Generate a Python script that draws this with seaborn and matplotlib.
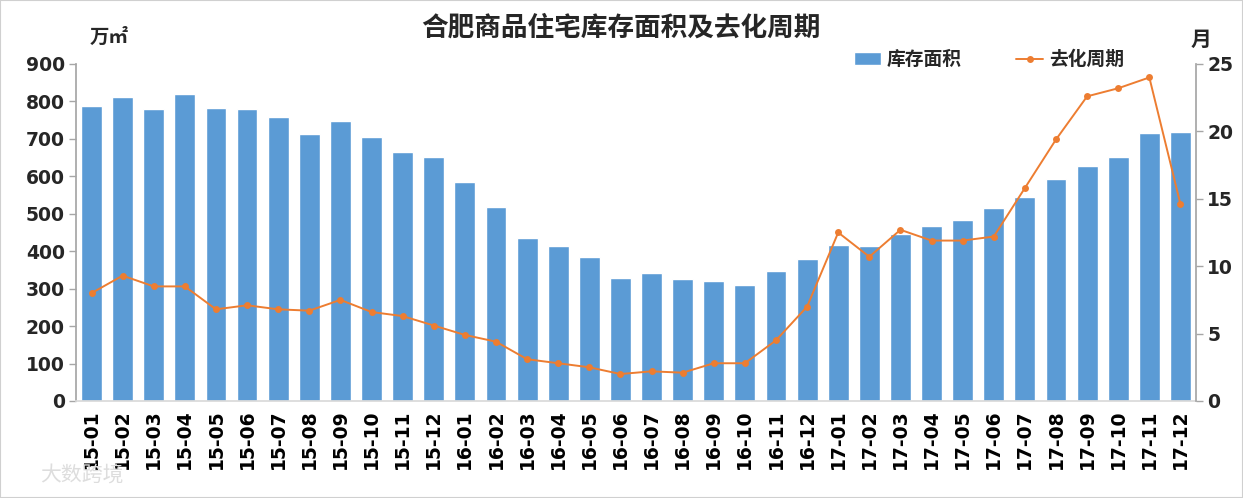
import numpy as np
import pandas as pd
import matplotlib
matplotlib.use("Agg")
import matplotlib.pyplot as plt
import seaborn as sns
from matplotlib.patches import Rectangle

months = ["15-01","15-02","15-03","15-04","15-05","15-06","15-07","15-08","15-09","15-10","15-11","15-12",
          "16-01","16-02","16-03","16-04","16-05","16-06","16-07","16-08","16-09","16-10","16-11","16-12",
          "17-01","17-02","17-03","17-04","17-05","17-06","17-07","17-08","17-09","17-10","17-11","17-12"]
inventory = [788, 812, 780, 820, 783, 780, 758, 713, 748, 705, 665, 652,
             586, 518, 435, 414, 385, 329, 342, 326, 320, 310, 347, 379,
             417, 414, 446, 467, 483, 515, 545, 593, 628, 652, 716, 718]
cycle = [8.0, 9.3, 8.5, 8.5, 6.8, 7.1, 6.8, 6.7, 7.5, 6.6, 6.3, 5.6,
         4.9, 4.4, 3.1, 2.8, 2.5, 2.0, 2.2, 2.1, 2.8, 2.8, 4.5, 7.0,
         12.5, 10.7, 12.7, 11.9, 11.9, 12.2, 15.8, 19.4, 22.6, 23.2, 24.0, 14.6]
left_ticks = [0, 100, 200, 300, 400, 500, 600, 700, 800, 900]
right_ticks = [0, 5, 10, 15, 20, 25]

title = "合肥商品住宅库存面积及去化周期"
bar_label = "库存面积"
line_label = "去化周期"

sns.set_theme(style="white")
plt.rcParams['font.family'] = ['Noto Sans CJK SC', 'DejaVu Sans']

BAR = "#5B9BD5"
LINE = "#ED7D31"
AXC = "#A6A6A6"

df = pd.DataFrame({"month": months, "inventory": inventory, "cycle": cycle,
                   "idx": np.arange(len(months))})

fig = plt.figure(figsize=(12.43, 4.98), dpi=100)
ax = fig.add_axes([0.0611, 0.1948, 0.9011, 0.6767])

sns.barplot(data=df, x="month", y="inventory", color=BAR, width=0.67,
            saturation=1, ax=ax, label=bar_label)
ax2 = ax.twinx()
sns.lineplot(data=df, x="idx", y="cycle", color=LINE, marker="o", markersize=5,
             markeredgewidth=0, linewidth=1.4, ax=ax2, label=line_label)

ax.set_xlim(-0.5, len(months) - 0.5)
ax.set_ylim(0, 900)
ax2.set_ylim(0, 25)
ax.set_yticks(left_ticks)
ax2.set_yticks(right_ticks)
ax.set_xlabel("")
ax.set_ylabel("")
ax2.set_xlabel("")
ax2.set_ylabel("")

tickfont = dict(family="DejaVu Sans", weight="bold", size=13.5)
ax.set_xticks(np.arange(len(months)))
ax.set_xticklabels(months, rotation=90, fontdict=tickfont)
ax.set_yticklabels([str(t) for t in left_ticks], fontdict=tickfont)
ax2.set_yticklabels([str(t) for t in right_ticks], fontdict=tickfont)

for a in (ax, ax2):
    for s in a.spines.values():
        s.set_visible(False)
ax.spines["left"].set_visible(True)
ax.spines["left"].set_color(AXC)
ax.spines["bottom"].set_visible(True)
ax.spines["bottom"].set_color("#D9D9D9")
ax2.spines["right"].set_visible(True)
ax2.spines["right"].set_color(AXC)

ax.tick_params(axis="y", direction="out", length=5, color=AXC, width=1, pad=3, left=True)
ax.tick_params(axis="x", length=0, pad=6, colors="black")
ax2.tick_params(axis="y", direction="out", length=5, color=AXC, width=1, pad=3, right=True)

ax.get_legend() and ax.get_legend().remove()
ax2.get_legend() and ax2.get_legend().remove()
h1, l1 = ax.get_legend_handles_labels()
h2, l2 = ax2.get_legend_handles_labels()
fig.legend(h1 + h2, l1 + l2, loc="center", bbox_to_anchor=(0.7957, 0.88), ncol=2,
           frameon=False, prop=dict(family=['Noto Sans CJK SC'], weight="bold", size=13.5),
           handlelength=1.45, handletextpad=0.3, columnspacing=2.9)

fig.text(0.4995, 0.943, title, ha="center", va="center", fontsize=19.2, fontweight="bold")
fig.text(0.072, 0.925, "万㎡", ha="left", va="center", fontsize=14, fontweight="bold")
fig.text(0.9575, 0.92, "月", ha="left", va="center", fontsize=15, fontweight="bold")
fig.text(0.032, 0.045, "大数跨境", ha="left", va="center", fontsize=15, color="#DDDDDD")

fig.patches.append(Rectangle((0, 0), 1, 1, transform=fig.transFigure, fill=False,
                             edgecolor="#D0D0D0", linewidth=1.5))

fig.savefig("out.png", dpi=100)
